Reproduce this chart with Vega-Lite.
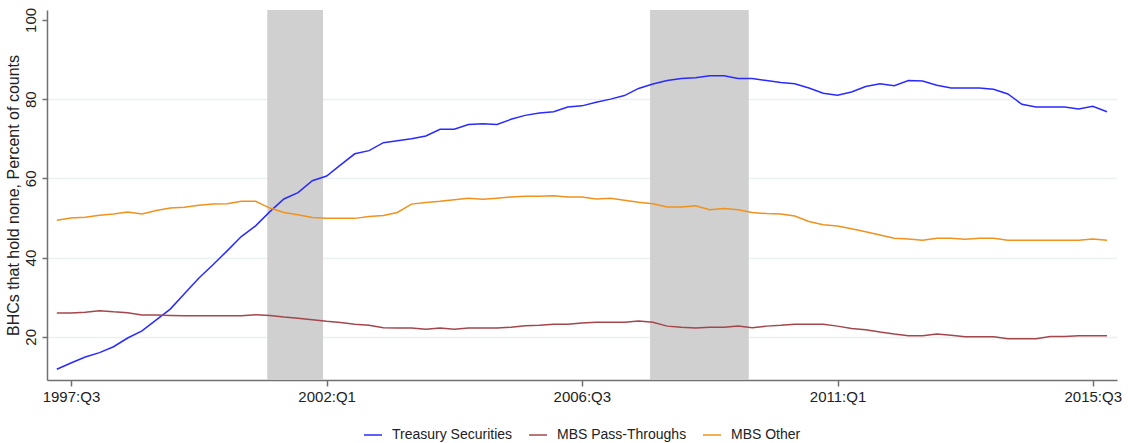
{
  "$schema": "https://vega.github.io/schema/vega-lite/v6.json",
  "width": 1070,
  "height": 370,
  "autosize": {"type": "none"},
  "padding": {"left": 47, "top": 10, "right": 11, "bottom": 63},
  "background": "white",
  "config": {
    "view": {"stroke": null},
    "font": "Liberation Sans",
    "axis": {
      "labelFont": "Liberation Sans",
      "titleFont": "Liberation Sans",
      "labelColor": "#222222",
      "titleColor": "#222222",
      "domainColor": "#707070",
      "tickColor": "#707070",
      "domainWidth": 1.5,
      "tickWidth": 1.5,
      "labelFontSize": 15
    },
    "legend": {"labelFont": "Liberation Sans"}
  },
  "layer": [
    {
      "data": {"values": [
        {"start": "2000-12-15", "end": "2001-12-09"},
        {"start": "2007-09-13", "end": "2009-06-09"}
      ]},
      "mark": {"type": "rect", "color": "#d0d0d0"},
      "encoding": {
        "x": {"field": "start", "type": "temporal",
              "scale": {"type": "utc", "domain": [{"year": 1997, "month": 1, "date": 28, "utc": true}, {"year": 2015, "month": 12, "date": 4, "utc": true}], "nice": false},
              "axis": {
                "title": null,
                "grid": false,
                "values": [
                  {"year": 1997, "month": 7, "date": 1, "utc": true},
                  {"year": 2002, "month": 1, "date": 1, "utc": true},
                  {"year": 2006, "month": 7, "date": 1, "utc": true},
                  {"year": 2011, "month": 1, "date": 1, "utc": true},
                  {"year": 2015, "month": 7, "date": 1, "utc": true}
                ],
                "labelExpr": "utcFormat(datum.value, '%Y') + ':Q' + utcquarter(datum.value)",
                "tickSize": 6,
                "labelPadding": 3,
                "labelOverlap": false,
                "labelFlush": false,
                "labelBound": false
              }},
        "x2": {"field": "end"}
      }
    },
    {
      "data": {"values": [
        {"date": "1997-04-01", "Treasury Securities": 11.8, "MBS Pass-Throughs": 26.0, "MBS Other": 49.4},
        {"date": "1997-07-01", "Treasury Securities": 13.4, "MBS Pass-Throughs": 26.0, "MBS Other": 50.0},
        {"date": "1997-10-01", "Treasury Securities": 14.9, "MBS Pass-Throughs": 26.2, "MBS Other": 50.2},
        {"date": "1998-01-01", "Treasury Securities": 16.0, "MBS Pass-Throughs": 26.6, "MBS Other": 50.7},
        {"date": "1998-04-01", "Treasury Securities": 17.5, "MBS Pass-Throughs": 26.3, "MBS Other": 51.0},
        {"date": "1998-07-01", "Treasury Securities": 19.7, "MBS Pass-Throughs": 26.1, "MBS Other": 51.5},
        {"date": "1998-10-01", "Treasury Securities": 21.5, "MBS Pass-Throughs": 25.5, "MBS Other": 51.0},
        {"date": "1999-01-01", "Treasury Securities": 24.3, "MBS Pass-Throughs": 25.5, "MBS Other": 51.9},
        {"date": "1999-04-01", "Treasury Securities": 27.0, "MBS Pass-Throughs": 25.4, "MBS Other": 52.5},
        {"date": "1999-07-01", "Treasury Securities": 30.9, "MBS Pass-Throughs": 25.3, "MBS Other": 52.7},
        {"date": "1999-10-01", "Treasury Securities": 34.8, "MBS Pass-Throughs": 25.3, "MBS Other": 53.2},
        {"date": "2000-01-01", "Treasury Securities": 38.2, "MBS Pass-Throughs": 25.3, "MBS Other": 53.5},
        {"date": "2000-04-01", "Treasury Securities": 41.7, "MBS Pass-Throughs": 25.3, "MBS Other": 53.6},
        {"date": "2000-07-01", "Treasury Securities": 45.3, "MBS Pass-Throughs": 25.3, "MBS Other": 54.2},
        {"date": "2000-10-01", "Treasury Securities": 48.0, "MBS Pass-Throughs": 25.6, "MBS Other": 54.2},
        {"date": "2001-01-01", "Treasury Securities": 51.6, "MBS Pass-Throughs": 25.4, "MBS Other": 52.5},
        {"date": "2001-04-01", "Treasury Securities": 54.8, "MBS Pass-Throughs": 25.0, "MBS Other": 51.4},
        {"date": "2001-07-01", "Treasury Securities": 56.4, "MBS Pass-Throughs": 24.7, "MBS Other": 50.8},
        {"date": "2001-10-01", "Treasury Securities": 59.4, "MBS Pass-Throughs": 24.3, "MBS Other": 50.1},
        {"date": "2002-01-01", "Treasury Securities": 60.6, "MBS Pass-Throughs": 23.9, "MBS Other": 49.9},
        {"date": "2002-04-01", "Treasury Securities": 63.4, "MBS Pass-Throughs": 23.6, "MBS Other": 49.9},
        {"date": "2002-07-01", "Treasury Securities": 66.2, "MBS Pass-Throughs": 23.2, "MBS Other": 49.9},
        {"date": "2002-10-01", "Treasury Securities": 67.0, "MBS Pass-Throughs": 22.9, "MBS Other": 50.4},
        {"date": "2003-01-01", "Treasury Securities": 69.0, "MBS Pass-Throughs": 22.3, "MBS Other": 50.6},
        {"date": "2003-04-01", "Treasury Securities": 69.5, "MBS Pass-Throughs": 22.2, "MBS Other": 51.4},
        {"date": "2003-07-01", "Treasury Securities": 70.0, "MBS Pass-Throughs": 22.2, "MBS Other": 53.5},
        {"date": "2003-10-01", "Treasury Securities": 70.7, "MBS Pass-Throughs": 21.9, "MBS Other": 53.9},
        {"date": "2004-01-01", "Treasury Securities": 72.4, "MBS Pass-Throughs": 22.2, "MBS Other": 54.2},
        {"date": "2004-04-01", "Treasury Securities": 72.4, "MBS Pass-Throughs": 21.9, "MBS Other": 54.6},
        {"date": "2004-07-01", "Treasury Securities": 73.6, "MBS Pass-Throughs": 22.2, "MBS Other": 55.0},
        {"date": "2004-10-01", "Treasury Securities": 73.8, "MBS Pass-Throughs": 22.2, "MBS Other": 54.7},
        {"date": "2005-01-01", "Treasury Securities": 73.6, "MBS Pass-Throughs": 22.2, "MBS Other": 55.0},
        {"date": "2005-04-01", "Treasury Securities": 74.9, "MBS Pass-Throughs": 22.4, "MBS Other": 55.3},
        {"date": "2005-07-01", "Treasury Securities": 75.9, "MBS Pass-Throughs": 22.8, "MBS Other": 55.5},
        {"date": "2005-10-01", "Treasury Securities": 76.5, "MBS Pass-Throughs": 22.9, "MBS Other": 55.5},
        {"date": "2006-01-01", "Treasury Securities": 76.8, "MBS Pass-Throughs": 23.2, "MBS Other": 55.6},
        {"date": "2006-04-01", "Treasury Securities": 78.0, "MBS Pass-Throughs": 23.2, "MBS Other": 55.3},
        {"date": "2006-07-01", "Treasury Securities": 78.3, "MBS Pass-Throughs": 23.5, "MBS Other": 55.3},
        {"date": "2006-10-01", "Treasury Securities": 79.2, "MBS Pass-Throughs": 23.7, "MBS Other": 54.8},
        {"date": "2007-01-01", "Treasury Securities": 80.0, "MBS Pass-Throughs": 23.7, "MBS Other": 55.0},
        {"date": "2007-04-01", "Treasury Securities": 80.9, "MBS Pass-Throughs": 23.7, "MBS Other": 54.5},
        {"date": "2007-07-01", "Treasury Securities": 82.7, "MBS Pass-Throughs": 24.0, "MBS Other": 54.0},
        {"date": "2007-10-01", "Treasury Securities": 83.8, "MBS Pass-Throughs": 23.7, "MBS Other": 53.6},
        {"date": "2008-01-01", "Treasury Securities": 84.7, "MBS Pass-Throughs": 22.7, "MBS Other": 52.8},
        {"date": "2008-04-01", "Treasury Securities": 85.2, "MBS Pass-Throughs": 22.4, "MBS Other": 52.8},
        {"date": "2008-07-01", "Treasury Securities": 85.4, "MBS Pass-Throughs": 22.2, "MBS Other": 53.1},
        {"date": "2008-10-01", "Treasury Securities": 85.9, "MBS Pass-Throughs": 22.4, "MBS Other": 52.1},
        {"date": "2009-01-01", "Treasury Securities": 85.9, "MBS Pass-Throughs": 22.4, "MBS Other": 52.4},
        {"date": "2009-04-01", "Treasury Securities": 85.2, "MBS Pass-Throughs": 22.7, "MBS Other": 52.1},
        {"date": "2009-07-01", "Treasury Securities": 85.2, "MBS Pass-Throughs": 22.3, "MBS Other": 51.4},
        {"date": "2009-10-01", "Treasury Securities": 84.7, "MBS Pass-Throughs": 22.7, "MBS Other": 51.1},
        {"date": "2010-01-01", "Treasury Securities": 84.2, "MBS Pass-Throughs": 22.9, "MBS Other": 51.0},
        {"date": "2010-04-01", "Treasury Securities": 83.9, "MBS Pass-Throughs": 23.2, "MBS Other": 50.5},
        {"date": "2010-07-01", "Treasury Securities": 82.8, "MBS Pass-Throughs": 23.2, "MBS Other": 49.1},
        {"date": "2010-10-01", "Treasury Securities": 81.5, "MBS Pass-Throughs": 23.2, "MBS Other": 48.3},
        {"date": "2011-01-01", "Treasury Securities": 81.0, "MBS Pass-Throughs": 22.7, "MBS Other": 48.0},
        {"date": "2011-04-01", "Treasury Securities": 81.8, "MBS Pass-Throughs": 22.1, "MBS Other": 47.3},
        {"date": "2011-07-01", "Treasury Securities": 83.2, "MBS Pass-Throughs": 21.8, "MBS Other": 46.5},
        {"date": "2011-10-01", "Treasury Securities": 83.9, "MBS Pass-Throughs": 21.2, "MBS Other": 45.7},
        {"date": "2012-01-01", "Treasury Securities": 83.4, "MBS Pass-Throughs": 20.7, "MBS Other": 44.9},
        {"date": "2012-04-01", "Treasury Securities": 84.7, "MBS Pass-Throughs": 20.3, "MBS Other": 44.7},
        {"date": "2012-07-01", "Treasury Securities": 84.6, "MBS Pass-Throughs": 20.3, "MBS Other": 44.4},
        {"date": "2012-10-01", "Treasury Securities": 83.5, "MBS Pass-Throughs": 20.7, "MBS Other": 44.9},
        {"date": "2013-01-01", "Treasury Securities": 82.8, "MBS Pass-Throughs": 20.4, "MBS Other": 44.9},
        {"date": "2013-04-01", "Treasury Securities": 82.8, "MBS Pass-Throughs": 20.0, "MBS Other": 44.6},
        {"date": "2013-07-01", "Treasury Securities": 82.8, "MBS Pass-Throughs": 20.0, "MBS Other": 44.9},
        {"date": "2013-10-01", "Treasury Securities": 82.5, "MBS Pass-Throughs": 20.0, "MBS Other": 44.9},
        {"date": "2014-01-01", "Treasury Securities": 81.3, "MBS Pass-Throughs": 19.5, "MBS Other": 44.4},
        {"date": "2014-04-01", "Treasury Securities": 78.7, "MBS Pass-Throughs": 19.5, "MBS Other": 44.4},
        {"date": "2014-07-01", "Treasury Securities": 78.0, "MBS Pass-Throughs": 19.5, "MBS Other": 44.4},
        {"date": "2014-10-01", "Treasury Securities": 78.0, "MBS Pass-Throughs": 20.1, "MBS Other": 44.4},
        {"date": "2015-01-01", "Treasury Securities": 78.0, "MBS Pass-Throughs": 20.1, "MBS Other": 44.4},
        {"date": "2015-04-01", "Treasury Securities": 77.5, "MBS Pass-Throughs": 20.3, "MBS Other": 44.4},
        {"date": "2015-07-01", "Treasury Securities": 78.2, "MBS Pass-Throughs": 20.3, "MBS Other": 44.7},
        {"date": "2015-10-01", "Treasury Securities": 76.8, "MBS Pass-Throughs": 20.3, "MBS Other": 44.4}
      ]},
      "transform": [
        {"fold": ["Treasury Securities", "MBS Pass-Throughs", "MBS Other"], "as": ["series", "value"]}
      ],
      "mark": {"type": "line", "strokeWidth": 1.5},
      "encoding": {
        "x": {
          "field": "date", "type": "temporal",
          "scale": {"type": "utc", "domain": [{"year": 1997, "month": 1, "date": 28, "utc": true}, {"year": 2015, "month": 12, "date": 4, "utc": true}], "nice": false},
          "axis": {
            "title": null,
            "grid": false,
            "values": [
              {"year": 1997, "month": 7, "date": 1, "utc": true},
              {"year": 2002, "month": 1, "date": 1, "utc": true},
              {"year": 2006, "month": 7, "date": 1, "utc": true},
              {"year": 2011, "month": 1, "date": 1, "utc": true},
              {"year": 2015, "month": 7, "date": 1, "utc": true}
            ],
            "labelExpr": "utcFormat(datum.value, '%Y') + ':Q' + utcquarter(datum.value)",
            "tickSize": 6,
            "labelPadding": 3,
            "labelOverlap": false,
            "labelFlush": false,
            "labelBound": false
          }
        },
        "y": {
          "field": "value", "type": "quantitative",
          "scale": {"domain": [9.1, 102.5], "nice": false, "zero": false},
          "axis": {
            "title": "BHCs that hold none, Percent of counts",
            "titleFontSize": 16,
            "titleFontWeight": "normal",
            "titlePadding": 2,
            "values": [20, 40, 60, 80, 100],
            "labelAngle": 270,
            "labelAlign": "center",
            "labelBaseline": "alphabetic",
            "labelPadding": 7,
            "tickSize": 5,
            "grid": true,
            "gridColor": {"condition": {"test": "datum.value == 100", "value": "transparent"}, "value": "#eaf1f1"},
            "gridWidth": 1.5
          }
        },
        "color": {
          "field": "series", "type": "nominal",
          "scale": {"domain": ["Treasury Securities", "MBS Pass-Throughs", "MBS Other"], "range": ["#2a2aff", "#a3474c", "#f0921e"]},
          "legend": {
            "title": null,
            "orient": "none",
            "legendX": 316,
            "legendY": 415,
            "direction": "horizontal",
            "symbolType": "stroke",
            "symbolSize": 324,
            "symbolStrokeWidth": 1.5,
            "labelFontSize": 14,
            "labelColor": "#222222",
            "labelOffset": 9,
            "columnPadding": 13
          }
        }
      }
    }
  ]
}
